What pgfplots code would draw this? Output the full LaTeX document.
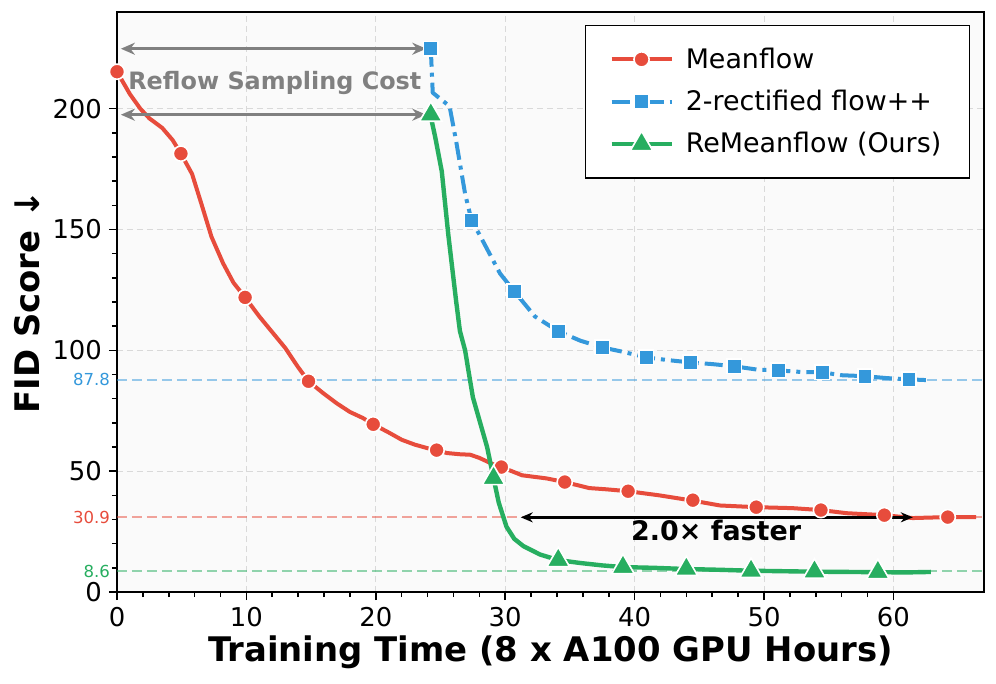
\documentclass[border=0pt]{standalone}
\usepackage{fontspec}
\setmainfont{DejaVu Sans}
\usepackage{pgfplots}
\pgfplotsset{compat=1.18}
\usetikzlibrary{arrows.meta}
\definecolor{mfred}{HTML}{E74C3C}
\definecolor{rfblue}{HTML}{3498DB}
\definecolor{rmgreen}{HTML}{27AE60}
\definecolor{bgc}{HTML}{FAFAFA}
\definecolor{gridc}{HTML}{D9D9D9}
\definecolor{annot}{HTML}{808080}

\begin{document}
\begin{tikzpicture}
\useasboundingbox (-58.5bp,-46bp) rectangle (439.5bp,296bp);
\begin{axis}[
    at={(0,0)}, anchor=south west,
    scale only axis, width=433.5bp, height=290bp,
    xmin=0, xmax=67, ymin=0, ymax=240,
    xtick={0,10,...,60}, ytick={0,50,...,200},
    minor x tick num=4, minor y tick num=4,
    xtick pos=left, ytick pos=left,
    tick align=outside,
    major tick length=4bp, minor tick length=2.5bp,
    every tick/.style={black, line width=0.8bp},
    axis line style={line width=1.2bp},
    axis background/.style={fill=bgc},
    grid=major,
    major grid style={gridc, dash pattern=on 3bp off 2bp, line width=0.5bp},
    tick label style={font=\fontsize{13}{15}\selectfont},
    /pgf/number format/assume math mode=true,
    extra y ticks={8.6,30.9,87.8},
    extra y tick labels={\textcolor{rmgreen}{8.6},\textcolor{mfred}{30.9},\textcolor{rfblue}{87.8}},
    extra y tick style={grid=none, major tick length=0pt, tick style={draw=none},
        tick label style={font=\fontsize{8.3}{10}\selectfont}},
    xlabel={Training Time (8 x A100 GPU Hours)},
    ylabel={FID Score ↓},
    label style={font=\bfseries\fontsize{17}{20}\selectfont},
    xlabel style={at={(axis description cs:0.5,-0.1034)}, anchor=center},
    ylabel style={at={(axis description cs:-0.1038,0.5)}, anchor=center},
    legend style={at={(1,1)}, anchor=north east, xshift=-7bp, yshift=-6.5bp,
        draw=black, line width=0.7bp, fill=white,
        font=\fontsize{13.5}{16}\selectfont,
        inner xsep=12bp, inner ysep=9bp, row sep=5.5bp,
        /tikz/every odd column/.append style={column sep=4bp},
        cells={anchor=west}},
    legend image code/.code={\draw[mark repeat=2, mark phase=2, #1]
        plot coordinates {(0bp,0bp) (15bp,0bp) (30bp,0bp)};},
]
% reference levels
\addplot[rfblue, opacity=0.5, line width=1bp, dash pattern=on 5bp off 2.5bp, forget plot]
    coordinates {(0,87.8) (67,87.8)};
\addplot[mfred, opacity=0.5, line width=1bp, dash pattern=on 5bp off 2.5bp, forget plot]
    coordinates {(0,30.9) (67,30.9)};
\addplot[rmgreen, opacity=0.5, line width=1bp, dash pattern=on 5bp off 2.5bp, forget plot]
    coordinates {(0,8.6) (67,8.6)};

% Meanflow
\addplot[mfred, line width=2bp, line join=round, forget plot] coordinates {
    (0,215.3) (1,206) (1.8,200) (2.5,196) (3.5,192) (4.3,187) (4.94,181.4)
    (5.8,173) (6.5,161) (7.3,147) (8.2,136) (9,128) (9.9,121.9) (11,114)
    (12,107.5) (13,101) (14,93) (14.8,87.2) (16,82) (17,78) (18,74.5) (19,72)
    (19.8,69.4) (21,66) (22,63) (23,61) (24,59.5) (24.7,58.7) (25.5,57.5)
    (26.5,57) (27.3,56.8) (28,55.5) (29,53) (29.7,51.7) (31.3,48.3) (33.2,47)
    (34.6,45.5) (36.5,43) (37.8,42.5) (39.5,41.7) (41.9,40) (44.5,37.8)
    (46.6,35.8) (49.4,35.1) (52.2,34.7) (54.4,33.9) (56.4,32.6) (59.3,31.8)
    (61.5,30.6) (64.2,31) (66.4,31)
};
\addplot[only marks, mark=*, mark size=3.8bp,
    mark options={fill=mfred, draw=white, line width=0.8bp}, forget plot] coordinates {
    (0,215.3) (4.94,181.4) (9.9,121.9) (14.8,87.2) (19.8,69.4) (24.7,58.7)
    (29.7,51.7) (34.6,45.5) (39.5,41.7) (44.5,38) (49.4,35.1) (54.4,33.9)
    (59.3,31.8) (64.2,31)
};

% 2-rectified flow++
\addplot[rfblue, line width=2bp, line join=round,
    dash pattern=on 9bp off 3bp on 2bp off 3bp, forget plot] coordinates {
    (24.25,224.8) (24.4,206.6) (25.7,201) (26.2,186.8) (26.9,164.8) (27.4,153.7)
    (28,148) (29.6,131.8) (30.7,124.4) (32.3,114) (34.1,107.9) (35.8,104)
    (37.5,101.2) (39,99.5) (40.9,97.1) (42.5,96) (44.3,95) (46,94.3)
    (47.7,93.4) (49.5,92) (51.1,91.7) (53,91) (54.5,90.9) (56,89.7)
    (57.8,89.3) (59.5,88.5) (61.2,88) (62.9,87.6)
};
\addplot[only marks, mark=square*, mark size=3.6bp,
    mark options={fill=rfblue, draw=white, line width=0.8bp}, forget plot] coordinates {
    (24.25,224.8) (27.4,153.7) (30.7,124.4) (34.1,107.9) (37.5,101.2)
    (40.9,97.1) (44.3,95) (47.7,93.4) (51.1,91.7) (54.5,90.9) (57.8,89.3)
    (61.2,88)
};

% ReMeanflow (Ours)
\addplot[rmgreen, line width=2.2bp, line join=round, forget plot] coordinates {
    (24.25,196.7) (24.6,188) (25.1,174) (25.6,148) (26.2,120.7) (26.5,108)
    (26.9,100) (27.5,80.6) (28.6,60) (29.1,47.1) (29.5,37) (30.1,27)
    (30.7,22) (31.4,19) (32.7,15.5) (34.1,13.2) (35.8,12) (37.5,11)
    (39.1,10.3) (41.5,10) (44,9.5) (46.5,9.2) (49,8.8) (51.5,8.6)
    (53.9,8.4) (56.5,8.3) (58.8,8.2) (61,8.1) (62.9,8.3)
};
\addplot[only marks, mark=triangle*, mark size=6.5bp,
    mark options={fill=rmgreen, draw=white, line width=0.8bp}, forget plot] coordinates {
    (24.25,197.5) (29.1,47.1) (34.1,13.2) (39.1,10.3) (44,9.5) (49,8.7)
    (53.9,8.4) (58.8,8.2)
};

\addlegendimage{mfred, line width=2bp, mark=*, mark size=3.8bp,
    mark options={fill=mfred, draw=white, line width=0.8bp}}
\addlegendentry{Meanflow}
\addlegendimage{rfblue, line width=2bp, dash pattern=on 9bp off 3bp on 2bp off 3bp,
    mark=square*, mark size=3.6bp, mark options={solid, fill=rfblue, draw=white, line width=0.8bp}}
\addlegendentry{2-rectified flow++}
\addlegendimage{rmgreen, line width=2.2bp, mark=triangle*, mark size=6.5bp,
    mark options={fill=rmgreen, draw=white, line width=0.8bp}}
\addlegendentry{ReMeanflow (Ours)}

% annotations
\draw[annot, line width=1.5bp, {Stealth[length=7bp,width=6bp]}-{Stealth[length=7bp,width=6bp]}]
    (axis cs:0.3,224.8) -- (axis cs:23.9,224.8);
\draw[annot, line width=1.5bp, {Stealth[length=7bp,width=6bp]}-{Stealth[length=7bp,width=6bp]}]
    (axis cs:0.3,197.5) -- (axis cs:23.9,197.5);
\node[font=\bfseries\fontsize{12}{14}\selectfont, text=annot] at (axis cs:12.2,210.7)
    {Reflow Sampling Cost};
\draw[black, line width=1.2bp, {Stealth[length=6bp,width=5bp]}-{Stealth[length=6bp,width=5bp]}]
    (axis cs:31.2,30.9) -- (axis cs:61.5,30.9);
\node[font=\bfseries\fontsize{13.5}{16}\selectfont] at (axis cs:46.3,25.4) {2.0× faster};
\end{axis}
\end{tikzpicture}
\end{document}
